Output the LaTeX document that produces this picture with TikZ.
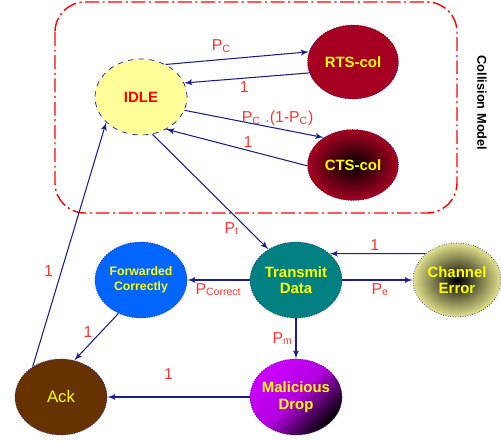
\documentclass[tikz,border=0pt]{standalone}
\usepackage{fontspec}
\setmainfont{Liberation Sans}
\usetikzlibrary{arrows,shapes.geometric}
\newcommand{\sub}[1]{\textsubscript{#1}}
\definecolor{edgeblue}{HTML}{1C1C8A}
\definecolor{lblred}{HTML}{FF3333}
\definecolor{idlefill}{HTML}{FFFF99}
\definecolor{colred}{HTML}{A50021}
\definecolor{teal}{HTML}{008080}
\definecolor{fwdblue}{HTML}{0066FF}
\definecolor{ackbrown}{HTML}{663300}
\definecolor{malpink}{HTML}{CC00FF}
\definecolor{khaki}{HTML}{E2E28C}
\definecolor{txtyellow}{HTML}{FFFF00}

\begin{document}
\begin{tikzpicture}[x=0.02cm,y=-0.02cm,
   state/.style={ellipse,draw=edgeblue,densely dotted,thin,inner sep=0pt,inner xsep=-2pt,
                 minimum width=1.84cm,minimum height=1.52cm,align=center,
                 text=txtyellow,font=\fontsize{8.5}{9.5}\selectfont\bfseries},
   edge/.style={draw=edgeblue,line width=0.6pt,-latex'},
   lbl/.style={text=lblred,font=\fontsize{9}{10}\selectfont,inner sep=1.5pt}]
   \useasboundingbox (0,0) rectangle (501,441);
   % collision model frame
   \draw[red,line width=0.8pt,rounded corners=0.6cm,dash pattern=on 8pt off 2pt on 1.2pt off 2pt]
      (55,2) rectangle (457,213);
   \node[rotate=-90,font=\fontsize{7.3}{8}\selectfont\bfseries] (cm) at (482,103) {Collision Model};
   % states
   \node[state,fill=idlefill,dashed,text=red] (idle) at (141, 97) {IDLE};
   \node[state,fill=colred,minimum width=1.82cm,minimum height=1.48cm] (rts) at (353, 62) {RTS-col};
   \node[state,inner color=black,outer color=colred,minimum width=1.82cm,minimum height=1.42cm] (cts) at (353,165) {CTS-col};
   \node[state,fill=teal] (td) at (296,280) {Transmit\\Data};
   \node[state,inner color=black,outer color=khaki,minimum width=1.76cm,minimum height=1.48cm] (ce) at (457,280) {Channel\\Error};
   \node[state,fill=fwdblue,font=\fontsize{7}{8.5}\selectfont\bfseries] (fc) at (141,280) {Forwarded\\Correctly};
   \node[state,top color=malpink,bottom color=black,middle color=malpink!88!black,shading angle=45] (md) at (296,397) {Malicious\\Drop};
   \node[state,fill=ackbrown,font=\fontsize{9.5}{11}\selectfont] (ack) at ( 61,397) {Ack};
   % transitions
   \draw[edge] (idle.53)  -- node[lbl,above=2pt,pos=.39] (l1) {P\sub{C}} (rts.167);
   \draw[edge] (rts.194)  -- node[lbl,below,pos=.52] (l2) {1} (idle.18);
   \draw[edge] (idle.343) -- node[lbl,above,pos=.67] (l3) {P\sub{C} .(1-P\sub{C})} (cts.137);
   \draw[edge] (cts.181)  -- node[lbl,above,pos=.42] (l4) {1} (idle.308);
   \draw[edge] (idle.287) -- node[lbl,left=3pt,pos=.82] (l5) {P\sub{t}} (td.132);
   \draw[edge] (ack.133)  -- node[lbl,left=3pt,pos=.39] (l6) {1} (idle.216);
   \draw[edge] (ce.140)   -- node[lbl,above,pos=.53] (l7) {1} (td.38);
   \draw[edge] (td.east)  -- node[lbl,below,pos=.54] (l8) {P\sub{e}} (ce.west);
   \draw[edge] (td.west)  -- node[lbl,below,pos=.5] (l9) {P\sub{Correct}} (fc.east);
   \draw[edge] (td.south) -- node[lbl,left,pos=.5] (l10) {P\sub{m}} (md.north);
   \draw[edge] (fc.236)   -- node[lbl,left=3pt,pos=.4] (l11) {1} (ack.70);
   \draw[edge] (md.west)  -- node[lbl,above=8pt,pos=.57] (l12) {1} (ack.east);
\end{tikzpicture}
\end{document}
